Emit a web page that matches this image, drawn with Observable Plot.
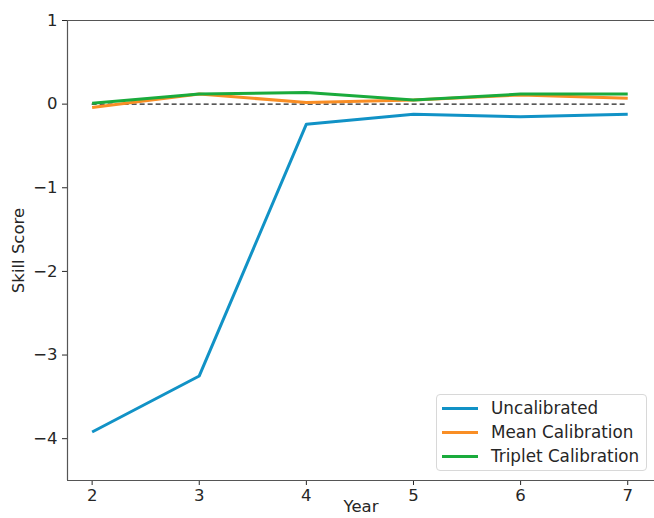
<!DOCTYPE html>
<html>
<head>
<meta charset="utf-8">
<script src="https://cdn.jsdelivr.net/npm/d3@7"></script>
<script src="https://cdn.jsdelivr.net/npm/@observablehq/plot@0.6"></script>
<style>
  html, body { margin: 0; padding: 0; background: #fff; }
  #wrap { position: relative; width: 654px; height: 518px; overflow: hidden; font-family: "DejaVu Sans", sans-serif; }
  #legend { position: absolute; left: 436px; top: 394px; width: 211px; height: 77px; box-sizing: border-box;
    border: 1px solid #d8d8d8; border-radius: 4px; background: rgba(255,255,255,0.85); }
  .row { position: absolute; left: 0; height: 22px; display: flex; align-items: center; font-size: 16.8px; color: #262626; white-space: nowrap; }
  .sw { width: 36px; height: 3px; margin-left: 5px; margin-right: 13px; }
</style>
</head>
<body>
<div id="wrap"></div>
<script>
const years = [2, 3, 4, 5, 6, 7];
const uncalibrated = [-3.92, -3.25, -0.24, -0.12, -0.15, -0.12];
const meanCalibration = [-0.04, 0.12, 0.02, 0.05, 0.11, 0.07];
const tripletCalibration = [0.01, 0.12, 0.14, 0.05, 0.12, 0.12];
const seriesNames = ["Uncalibrated", "Mean Calibration", "Triplet Calibration"];
const seriesColors = ["#1192c6", "#f98e25", "#1aab3c"];
const yTicks = [1, 0, -1, -2, -3, -4];
const xDomain = [1.77, 7.25];
const yDomain = [-4.5, 1];

const allSeries = [uncalibrated, meanCalibration, tripletCalibration];
const data = allSeries.flatMap((vals, i) => years.map((y, j) => ({year: y, value: vals[j], series: seriesNames[i]})));

const fmt = d3.format("d");
const chart = Plot.plot({
  width: 654,
  height: 518,
  marginLeft: 67,
  marginRight: 0,
  marginTop: 20,
  marginBottom: 38,
  style: {fontFamily: "DejaVu Sans, sans-serif", fontSize: "16.5px", color: "#262626", background: "transparent"},
  x: {domain: xDomain, ticks: years, tickFormat: fmt, tickSize: 5, tickPadding: 4, label: "Year", labelArrow: false, labelAnchor: "center", labelOffset: 31},
  y: {domain: yDomain, ticks: yTicks, tickFormat: fmt, tickSize: 5, tickPadding: 5, label: "Skill Score", labelArrow: false, labelAnchor: "center", labelOffset: 55},
  color: {domain: seriesNames, range: seriesColors},
  marks: [
    Plot.ruleX([xDomain[0]], {stroke: "#555", strokeWidth: 1.2}),
    Plot.ruleY([yDomain[0], yDomain[1]], {stroke: "#555", strokeWidth: 1.2}),
    Plot.ruleY([0], {x1: years[0], x2: years[years.length - 1], stroke: "#222", strokeWidth: 1.3, strokeDasharray: "5,3"}),
    Plot.line(data, {x: "year", y: "value", z: "series", stroke: "series", strokeWidth: 3, strokeLinejoin: "round", strokeLinecap: "butt"})
  ]
});
const wrap = document.getElementById("wrap");
wrap.appendChild(chart);

const legend = document.createElement("div");
legend.id = "legend";
seriesNames.forEach((name, i) => {
  const row = document.createElement("div");
  row.className = "row";
  row.style.top = (2 + i * 24) + "px";
  const sw = document.createElement("div");
  sw.className = "sw";
  sw.style.background = seriesColors[i];
  const t = document.createElement("span");
  t.textContent = name;
  row.appendChild(sw);
  row.appendChild(t);
  legend.appendChild(row);
});
wrap.appendChild(legend);
</script>
</body>
</html>
